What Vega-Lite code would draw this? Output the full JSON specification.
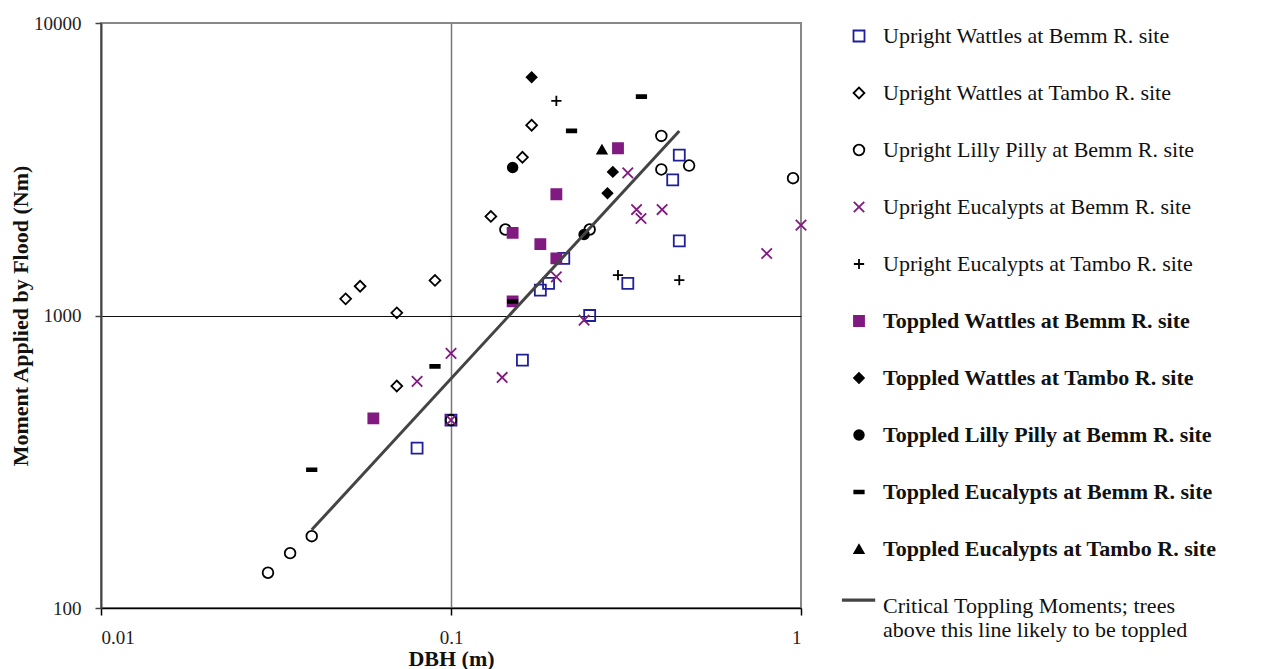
{
  "$schema": "https://vega.github.io/schema/vega-lite/v6.json",
  "width": 700,
  "height": 585,
  "autosize": "none",
  "padding": {"left": 101, "top": 23, "right": 462, "bottom": 61},
  "background": "white",
  "config": {
    "font": "Liberation Serif",
    "view": {"stroke": "#888888", "strokeWidth": 2}
  },
  "data": {"values": [
    {"series": "Upright Wattles at Bemm R. site", "dbh": 0.08, "moment": 352},
    {"series": "Upright Wattles at Bemm R. site", "dbh": 0.1, "moment": 439},
    {"series": "Upright Wattles at Bemm R. site", "dbh": 0.16, "moment": 704},
    {"series": "Upright Wattles at Bemm R. site", "dbh": 0.18, "moment": 1221},
    {"series": "Upright Wattles at Bemm R. site", "dbh": 0.19, "moment": 1287},
    {"series": "Upright Wattles at Bemm R. site", "dbh": 0.21, "moment": 1567},
    {"series": "Upright Wattles at Bemm R. site", "dbh": 0.249, "moment": 1000},
    {"series": "Upright Wattles at Bemm R. site", "dbh": 0.32, "moment": 1287},
    {"series": "Upright Wattles at Bemm R. site", "dbh": 0.43, "moment": 2908},
    {"series": "Upright Wattles at Bemm R. site", "dbh": 0.449, "moment": 3532},
    {"series": "Upright Wattles at Bemm R. site", "dbh": 0.449, "moment": 1799},
    {"series": "Upright Wattles at Tambo R. site", "dbh": 0.05, "moment": 1140},
    {"series": "Upright Wattles at Tambo R. site", "dbh": 0.055, "moment": 1259},
    {"series": "Upright Wattles at Tambo R. site", "dbh": 0.07, "moment": 1021},
    {"series": "Upright Wattles at Tambo R. site", "dbh": 0.09, "moment": 1318},
    {"series": "Upright Wattles at Tambo R. site", "dbh": 0.07, "moment": 574},
    {"series": "Upright Wattles at Tambo R. site", "dbh": 0.13, "moment": 2181},
    {"series": "Upright Wattles at Tambo R. site", "dbh": 0.16, "moment": 3475},
    {"series": "Upright Wattles at Tambo R. site", "dbh": 0.17, "moment": 4472},
    {"series": "Upright Lilly Pilly at Bemm R. site", "dbh": 0.03, "moment": 132},
    {"series": "Upright Lilly Pilly at Bemm R. site", "dbh": 0.0347, "moment": 154},
    {"series": "Upright Lilly Pilly at Bemm R. site", "dbh": 0.04, "moment": 176},
    {"series": "Upright Lilly Pilly at Bemm R. site", "dbh": 0.1, "moment": 439},
    {"series": "Upright Lilly Pilly at Bemm R. site", "dbh": 0.143, "moment": 1968},
    {"series": "Upright Lilly Pilly at Bemm R. site", "dbh": 0.249, "moment": 1968},
    {"series": "Upright Lilly Pilly at Bemm R. site", "dbh": 0.399, "moment": 4111},
    {"series": "Upright Lilly Pilly at Bemm R. site", "dbh": 0.399, "moment": 3157},
    {"series": "Upright Lilly Pilly at Bemm R. site", "dbh": 0.479, "moment": 3256},
    {"series": "Upright Lilly Pilly at Bemm R. site", "dbh": 0.949, "moment": 2947},
    {"series": "Upright Eucalypts at Bemm R. site", "dbh": 0.08, "moment": 595},
    {"series": "Upright Eucalypts at Bemm R. site", "dbh": 0.1, "moment": 742},
    {"series": "Upright Eucalypts at Bemm R. site", "dbh": 0.1, "moment": 439},
    {"series": "Upright Eucalypts at Bemm R. site", "dbh": 0.14, "moment": 614},
    {"series": "Upright Eucalypts at Bemm R. site", "dbh": 0.2, "moment": 1355},
    {"series": "Upright Eucalypts at Bemm R. site", "dbh": 0.24, "moment": 964},
    {"series": "Upright Eucalypts at Bemm R. site", "dbh": 0.32, "moment": 3073},
    {"series": "Upright Eucalypts at Bemm R. site", "dbh": 0.339, "moment": 2303},
    {"series": "Upright Eucalypts at Bemm R. site", "dbh": 0.349, "moment": 2146},
    {"series": "Upright Eucalypts at Bemm R. site", "dbh": 0.401, "moment": 2303},
    {"series": "Upright Eucalypts at Bemm R. site", "dbh": 0.798, "moment": 1629},
    {"series": "Upright Eucalypts at Bemm R. site", "dbh": 1.0, "moment": 2036},
    {"series": "Upright Eucalypts at Tambo R. site", "dbh": 0.2, "moment": 5413},
    {"series": "Upright Eucalypts at Tambo R. site", "dbh": 0.3, "moment": 1374},
    {"series": "Upright Eucalypts at Tambo R. site", "dbh": 0.449, "moment": 1321},
    {"series": "Toppled Wattles at Bemm R. site", "dbh": 0.06, "moment": 445},
    {"series": "Toppled Wattles at Bemm R. site", "dbh": 0.15, "moment": 1117},
    {"series": "Toppled Wattles at Bemm R. site", "dbh": 0.15, "moment": 1916},
    {"series": "Toppled Wattles at Bemm R. site", "dbh": 0.18, "moment": 1753},
    {"series": "Toppled Wattles at Bemm R. site", "dbh": 0.2, "moment": 1567},
    {"series": "Toppled Wattles at Bemm R. site", "dbh": 0.2, "moment": 2598},
    {"series": "Toppled Wattles at Bemm R. site", "dbh": 0.3, "moment": 3731},
    {"series": "Toppled Wattles at Tambo R. site", "dbh": 0.17, "moment": 6524},
    {"series": "Toppled Wattles at Tambo R. site", "dbh": 0.29, "moment": 3097},
    {"series": "Toppled Wattles at Tambo R. site", "dbh": 0.28, "moment": 2618},
    {"series": "Toppled Lilly Pilly at Bemm R. site", "dbh": 0.15, "moment": 3205},
    {"series": "Toppled Lilly Pilly at Bemm R. site", "dbh": 0.24, "moment": 1892},
    {"series": "Toppled Eucalypts at Bemm R. site", "dbh": 0.04, "moment": 297},
    {"series": "Toppled Eucalypts at Bemm R. site", "dbh": 0.09, "moment": 670},
    {"series": "Toppled Eucalypts at Bemm R. site", "dbh": 0.15, "moment": 1117},
    {"series": "Toppled Eucalypts at Bemm R. site", "dbh": 0.221, "moment": 4276},
    {"series": "Toppled Eucalypts at Bemm R. site", "dbh": 0.35, "moment": 5604},
    {"series": "Toppled Eucalypts at Tambo R. site", "dbh": 0.27, "moment": 3694},
    {"series": "Critical Toppling Moments; trees above this line likely to be toppled", "dbh": 0.04, "moment": 185},
    {"series": "Critical Toppling Moments; trees above this line likely to be toppled", "dbh": 0.449, "moment": 4276}
  ]},
  "layer": [
    {
      "transform": [{"filter": "indexof(datum.series, 'Critical') != 0"}],
      "mark": {"type": "point", "opacity": 1},
      "encoding": {
        "x": {
          "field": "dbh", "type": "quantitative",
          "scale": {"type": "log", "domain": [0.01, 1], "nice": false},
          "axis": {
            "title": "DBH (m)", "values": [0.01, 0.1, 1], "format": "~g",
            "grid": true, "gridColor": "#777777", "gridWidth": 1.5,
            "gridOpacity": {"condition": {"test": "datum.value == 0.1", "value": 1}, "value": 0},
            "domainColor": "#000000", "domainWidth": 1.5,
            "tickColor": "#000000", "tickSize": 7, "tickWidth": 1.5,
            "labelFont": "Liberation Serif", "labelFontSize": 19, "labelColor": "#222222",
            "labelBaseline": "alphabetic", "labelPadding": 28,
            "titleFont": "Liberation Serif", "titleFontSize": 22, "titleFontWeight": "bold", "titleColor": "#111111",
            "titleBaseline": "alphabetic", "titleY": 57
          }
        },
        "y": {
          "field": "moment", "type": "quantitative",
          "scale": {"type": "log", "domain": [100, 10000], "nice": false},
          "axis": {
            "title": "Moment Applied by Flood (Nm)", "values": [100, 1000, 10000], "format": "d",
            "grid": true, "gridColor": "#111111", "gridWidth": 1,
            "gridOpacity": {"condition": {"test": "datum.value == 1000", "value": 1}, "value": 0},
            "domainColor": "#444444", "domainWidth": 2,
            "tickColor": "#444444", "tickSize": 6, "tickWidth": 1.5,
            "labelFont": "Liberation Serif", "labelFontSize": 19, "labelColor": "#222222",
            "labelPadding": 14,
            "titleFont": "Liberation Serif", "titleFontSize": 22, "titleFontWeight": "bold", "titleColor": "#111111",
            "titleBaseline": "alphabetic", "titleX": -74
          }
        },
        "shape": {
          "field": "series", "type": "nominal",
          "scale": {
            "domain": [
              "Upright Wattles at Bemm R. site",
              "Upright Wattles at Tambo R. site",
              "Upright Lilly Pilly at Bemm R. site",
              "Upright Eucalypts at Bemm R. site",
              "Upright Eucalypts at Tambo R. site",
              "Toppled Wattles at Bemm R. site",
              "Toppled Wattles at Tambo R. site",
              "Toppled Lilly Pilly at Bemm R. site",
              "Toppled Eucalypts at Bemm R. site",
              "Toppled Eucalypts at Tambo R. site",
              "Critical Toppling Moments; trees above this line likely to be toppled"
            ],
            "range": [
              "square", "diamond", "circle",
              "M-1,-1L1,1M-1,1L1,-1",
              "M-1,0L1,0M0,-1L0,1",
              "square", "diamond", "circle",
              "M-1,-0.3L1,-0.3L1,0.3L-1,0.3Z",
              "triangle-up",
              "M-3.6,-1.45L3.4,-1.45L3.4,-1.15L-3.6,-1.15Z"
            ]
          },
          "legend": {
            "title": null, "orient": "none", "legendX": 747, "legendY": 2,
            "padding": 0, "rowPadding": 35, "labelOffset": 13, "labelLimit": 500,
            "labelFont": "Liberation Serif", "labelFontSize": 22, "labelColor": "#111111",
            "labelLineHeight": 23,
            "labelFontWeight": {"expr": "indexof(datum.label, 'Toppled') == 0 ? 'bold' : 'normal'"},
            "labelExpr": "indexof(datum.label, 'Critical') == 0 ? ['Critical Toppling Moments; trees', 'above this line likely to be toppled'] : datum.label"
          }
        },
        "stroke": {
          "field": "series", "type": "nominal",
          "scale": {
            "domain": [
              "Upright Wattles at Bemm R. site",
              "Upright Wattles at Tambo R. site",
              "Upright Lilly Pilly at Bemm R. site",
              "Upright Eucalypts at Bemm R. site",
              "Upright Eucalypts at Tambo R. site",
              "Toppled Wattles at Bemm R. site",
              "Toppled Wattles at Tambo R. site",
              "Toppled Lilly Pilly at Bemm R. site",
              "Toppled Eucalypts at Bemm R. site",
              "Toppled Eucalypts at Tambo R. site",
              "Critical Toppling Moments; trees above this line likely to be toppled"
            ],
            "range": ["#1f1f9a", "#000000", "#000000", "#801a80", "#000000", "#801a80", "#000000", "#000000", "#000000", "#000000", "#444444"]
          }
        },
        "fill": {
          "field": "series", "type": "nominal",
          "scale": {
            "domain": [
              "Upright Wattles at Bemm R. site",
              "Upright Wattles at Tambo R. site",
              "Upright Lilly Pilly at Bemm R. site",
              "Upright Eucalypts at Bemm R. site",
              "Upright Eucalypts at Tambo R. site",
              "Toppled Wattles at Bemm R. site",
              "Toppled Wattles at Tambo R. site",
              "Toppled Lilly Pilly at Bemm R. site",
              "Toppled Eucalypts at Bemm R. site",
              "Toppled Eucalypts at Tambo R. site",
              "Critical Toppling Moments; trees above this line likely to be toppled"
            ],
            "range": ["transparent", "transparent", "transparent", "transparent", "transparent", "#801a80", "#000000", "#000000", "#000000", "#000000", "#444444"]
          }
        },
        "size": {
          "field": "series", "type": "nominal",
          "scale": {
            "domain": [
              "Upright Wattles at Bemm R. site",
              "Upright Wattles at Tambo R. site",
              "Upright Lilly Pilly at Bemm R. site",
              "Upright Eucalypts at Bemm R. site",
              "Upright Eucalypts at Tambo R. site",
              "Toppled Wattles at Bemm R. site",
              "Toppled Wattles at Tambo R. site",
              "Toppled Lilly Pilly at Bemm R. site",
              "Toppled Eucalypts at Bemm R. site",
              "Toppled Eucalypts at Tambo R. site",
              "Critical Toppling Moments; trees above this line likely to be toppled"
            ],
            "range": [121, 81, 100, 196, 169, 144, 121, 169, 169, 144, 100]
          }
        },
        "strokeWidth": {
          "field": "series", "type": "nominal",
          "scale": {
            "domain": [
              "Upright Wattles at Bemm R. site",
              "Upright Wattles at Tambo R. site",
              "Upright Lilly Pilly at Bemm R. site",
              "Upright Eucalypts at Bemm R. site",
              "Upright Eucalypts at Tambo R. site",
              "Toppled Wattles at Bemm R. site",
              "Toppled Wattles at Tambo R. site",
              "Toppled Lilly Pilly at Bemm R. site",
              "Toppled Eucalypts at Bemm R. site",
              "Toppled Eucalypts at Tambo R. site",
              "Critical Toppling Moments; trees above this line likely to be toppled"
            ],
            "range": [1.8, 1.8, 1.5, 1.5, 1.5, 0, 0, 0, 0, 0, 1.5]
          }
        }
      }
    },
    {
      "transform": [{"filter": "indexof(datum.series, 'Critical') == 0"}],
      "mark": {"type": "line", "color": "#444444", "strokeWidth": 3},
      "encoding": {
        "x": {"field": "dbh", "type": "quantitative"},
        "y": {"field": "moment", "type": "quantitative"}
      }
    }
  ]
}
